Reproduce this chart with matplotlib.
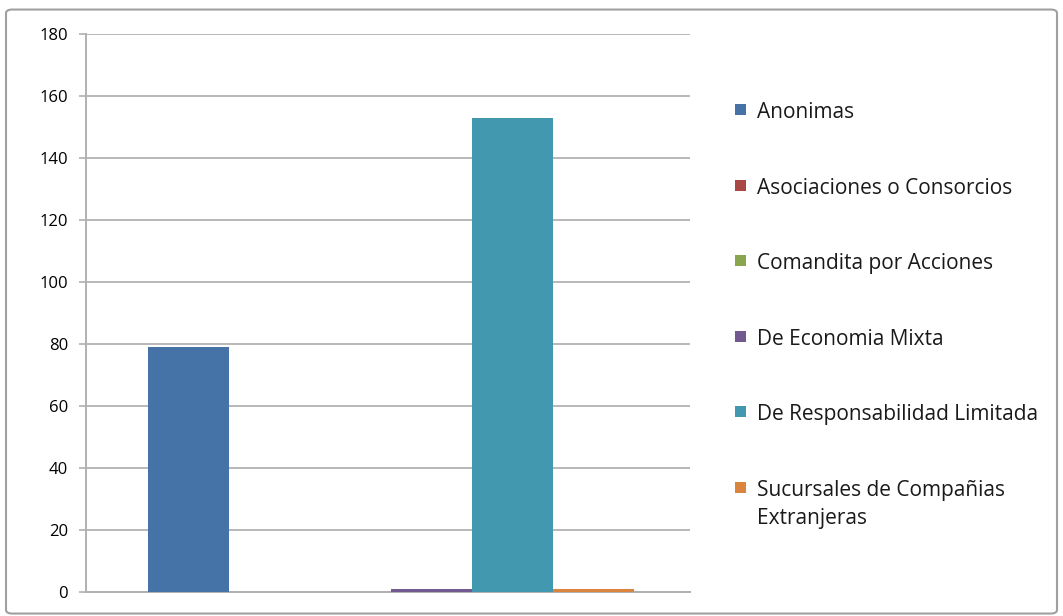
import matplotlib
matplotlib.use("Agg")
import matplotlib.pyplot as plt
from matplotlib.patches import FancyBboxPatch, Rectangle
import numpy as np

plt.rcParams['font.family'] = ['Open Sans', 'DejaVu Sans']

series = ["Anonimas", "Asociaciones o Consorcios", "Comandita por Acciones",
          "De Economia Mixta", "De Responsabilidad Limitada",
          "Sucursales de Compañias\nExtranjeras"]
values = [79, 0, 0, 1, 153, 1]
colors = ["#4572A7", "#AA4643", "#89A54E", "#71588F", "#4198AF", "#DB843D"]
yticks = [0, 20, 40, 60, 80, 100, 120, 140, 160, 180]

W, H = 1063, 616
fig = plt.figure(figsize=(W / 100, H / 100), dpi=100)
ax = fig.add_axes([86 / W, 1 - 592 / H, (690 - 86) / W, (592 - 34) / H])

w = 0.134
for i, (s, v, c) in enumerate(zip(series, values, colors)):
    ax.bar((i - 2.5) * w + 0.005, v, width=w, color=c, label=s, zorder=3)

ax.set_xlim(-0.5, 0.5)
ax.set_ylim(0, 180)
ax.set_yticks(yticks)
ax.set_xticks([])
ax.yaxis.grid(True, color="#b8b8b8", linewidth=1.4, zorder=0)
for sp in ["top", "right"]:
    ax.spines[sp].set_visible(False)
for sp in ["left", "bottom"]:
    ax.spines[sp].set_color("#b0b0b0")
    ax.spines[sp].set_linewidth(1.4)
ax.tick_params(axis="y", length=5, color="#b0b0b0", width=1.2, labelsize=12, pad=8)

# legend drawn manually (first line aligned with the swatch)
for i, (s, c) in enumerate(zip(series, colors)):
    yc = 110 + i * 75.6
    fig.patches.append(Rectangle((735 / W, 1 - (yc + 5) / H), 11 / W, 11 / H,
                                 transform=fig.transFigure, facecolor=c,
                                 edgecolor="none"))
    fig.text(757 / W, 1 - (yc - 8) / H, s, fontsize=15, va="top", ha="left",
             linespacing=1.45, color="#1a1a1a")

frame = FancyBboxPatch((6 / W, 0.004), 1 - 12 / W, 1 - 12 / H,
                       boxstyle="round,pad=0,rounding_size=0.006",
                       transform=fig.transFigure, fill=False,
                       edgecolor="#a0a0a0", linewidth=1.5)
fig.patches.append(frame)

fig.savefig("out.png", dpi=100)
